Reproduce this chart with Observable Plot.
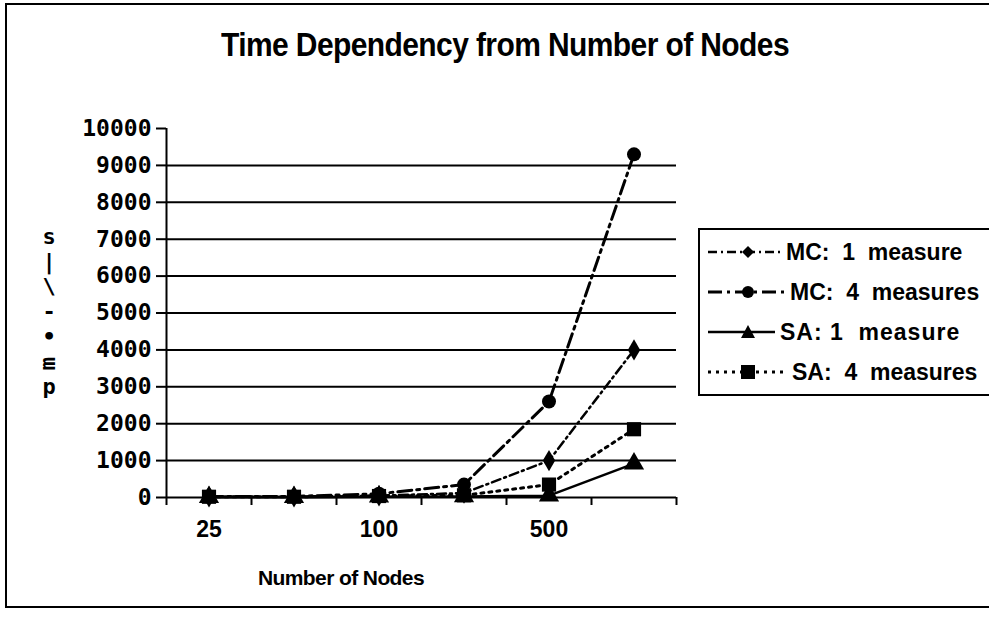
<!DOCTYPE html>
<html><head><meta charset="utf-8">
<script src="https://cdn.jsdelivr.net/npm/d3@7"></script>
<script src="https://cdn.jsdelivr.net/npm/@observablehq/plot@0.6"></script>
<style>
body{margin:0;background:#fff;}
#wrap{position:relative;width:989px;height:624px;overflow:hidden;font-family:"Liberation Sans",Arial,sans-serif;color:#000;background:#fff;}
#frame{position:absolute;left:5px;top:3px;width:990px;height:605px;border:2px solid #000;border-right:none;box-sizing:border-box;}
#title{position:absolute;left:0;top:28px;width:1010px;text-align:center;font-size:30px;font-weight:bold;letter-spacing:-0.6px;transform:scaleY(1.08);}
#chart{position:absolute;left:0;top:100px;}
#xlabel{position:absolute;left:221px;top:566px;width:240px;text-align:center;font-size:21px;font-weight:bold;letter-spacing:-0.6px;}
#ylabel{position:absolute;left:36px;top:226px;width:26px;font-family:"DejaVu Sans Mono",monospace;font-weight:bold;font-size:22px;text-align:center;line-height:1;}
#ylabel div{height:25px;}
#legend{position:absolute;left:698px;top:228px;width:300px;height:168px;border:2px solid #000;border-right:none;box-sizing:border-box;}
.row{position:absolute;left:0;height:30px;display:flex;align-items:center;font-size:23px;font-weight:bold;white-space:pre;}
.row svg{flex:none;}
</style></head>
<body><div id="wrap">
<div id="frame"></div>
<div id="title">Time Dependency from Number of Nodes</div>
<div id="chart"></div>
<div id="xlabel">Number of Nodes</div>
<div id="ylabel"><div>s</div><div>|</div><div>\</div><div>-</div><div>•</div><div style="transform:rotate(-90deg)">m</div><div>p</div></div>
<div id="legend"></div>
</div>
<script>
const nodes = [25, 50, 100, 250, 500, 1000];
const tickLabels = ["25", "", "100", "", "500", ""];
const seriesNames = ["MC:  1  measure", "MC:  4  measures", "SA: 1  measure", "SA:  4  measures"];
const mc1 = [20, 20, 50, 120, 1000, 4000];
const mc4 = [30, 30, 100, 350, 2600, 9300];
const sa1 = [10, 10, 20, 30, 50, 920];
const sa4 = [20, 20, 40, 60, 350, 1850];
const yTicks = [0, 1000, 2000, 3000, 4000, 5000, 6000, 7000, 8000, 9000, 10000];

const values = [mc1, mc4, sa1, sa4];
const styles = [
  {dash: "9,4,2,4", width: 2.5, symbol: "diamond", r: 6.5},
  {dash: "14,5,3,5", width: 3, symbol: "circle", r: 7},
  {dash: null, width: 2.5, symbol: "triangle", r: 7.5},
  {dash: "3,5", width: 3, symbol: "square", r: 8}
];
const table = [];
values.forEach((arr, s) => arr.forEach((v, i) => table.push({s, i, node: nodes[i], v})));
const bounds = d3.range(nodes.length + 1).map(k => k - 0.5);

const marks = [
  Plot.gridY(yTicks.filter(t => t > 0 && t < 10000), {stroke: "#000", strokeOpacity: 1, strokeWidth: 2}),
  Plot.ruleY([0], {stroke: "#000", strokeWidth: 2}),
  Plot.ruleX([bounds[0]], {y1: 0, y2: 10000, stroke: "#000", strokeWidth: 2}),
  Plot.axisY(yTicks, {tickSize: 10, tickPadding: 5, strokeWidth: 2, tickFormat: d => String(d), fontFamily: "DejaVu Sans Mono", fontWeight: "bold", fontSize: 23, label: null}),
  Plot.axisX(bounds, {tickSize: 8, strokeWidth: 2, tickFormat: () => "", label: null}),
  Plot.axisX(d3.range(nodes.length), {tickSize: 0, tickPadding: 23, tickFormat: i => tickLabels[i], fontFamily: "Liberation Sans", fontWeight: "bold", fontSize: 23, label: null})
];
styles.forEach((st, s) => {
  const d = table.filter(r => r.s === s);
  marks.push(Plot.line(d, {x: "i", y: "v", stroke: "#000", strokeWidth: st.width, strokeDasharray: st.dash}));
});
styles.forEach((st, s) => {
  const d = table.filter(r => r.s === s);
  marks.push(Plot.dot(d, {x: "i", y: "v", symbol: () => st.symbol, r: st.r, fill: "#000", stroke: "none"}));
});

const chart = Plot.plot({
  width: 989, height: 524,
  marginLeft: 166, marginRight: 313, marginTop: 28, marginBottom: 127,
  x: {type: "linear", domain: [bounds[0], bounds[bounds.length - 1]], axis: null},
  y: {domain: [0, 10000], axis: null},
  symbol: {type: "identity"},
  style: {background: "transparent", overflow: "visible"},
  marks
});
document.getElementById("chart").appendChild(chart);

// legend
const leg = document.getElementById("legend");
const symPath = {
  diamond: "M0,-6L6,0L0,6L-6,0Z",
  circle: null,
  triangle: "M0,-7L7,6L-7,6Z",
  square: "M-7,-7H7V7H-7Z"
};
const textLeft = [86, 90, 80, 92];
styles.forEach((st, s) => {
  const row = document.createElement("div");
  row.className = "row";
  row.style.top = (7 + s * 40) + "px";
  const w = textLeft[s];
  const ns = "http://www.w3.org/2000/svg";
  const svg = document.createElementNS(ns, "svg");
  svg.setAttribute("width", w); svg.setAttribute("height", 30);
  const line = document.createElementNS(ns, "line");
  line.setAttribute("x1", 8); line.setAttribute("x2", w - 5);
  line.setAttribute("y1", 15); line.setAttribute("y2", 15);
  line.setAttribute("stroke", "#000"); line.setAttribute("stroke-width", st.width);
  if (st.dash) line.setAttribute("stroke-dasharray", st.dash);
  svg.appendChild(line);
  let m;
  if (st.symbol === "circle") {
    m = document.createElementNS(ns, "circle");
    m.setAttribute("cx", 48); m.setAttribute("cy", 15); m.setAttribute("r", 6);
  } else {
    m = document.createElementNS(ns, "path");
    m.setAttribute("d", symPath[st.symbol]);
    m.setAttribute("transform", "translate(48,15)");
  }
  m.setAttribute("fill", "#000");
  svg.appendChild(m);
  row.appendChild(svg);
  const t = document.createElement("span");
  t.textContent = seriesNames[s];
  if (s === 2) t.style.letterSpacing = "1px";
  row.appendChild(t);
  leg.appendChild(row);
});
</script>
</body></html>
